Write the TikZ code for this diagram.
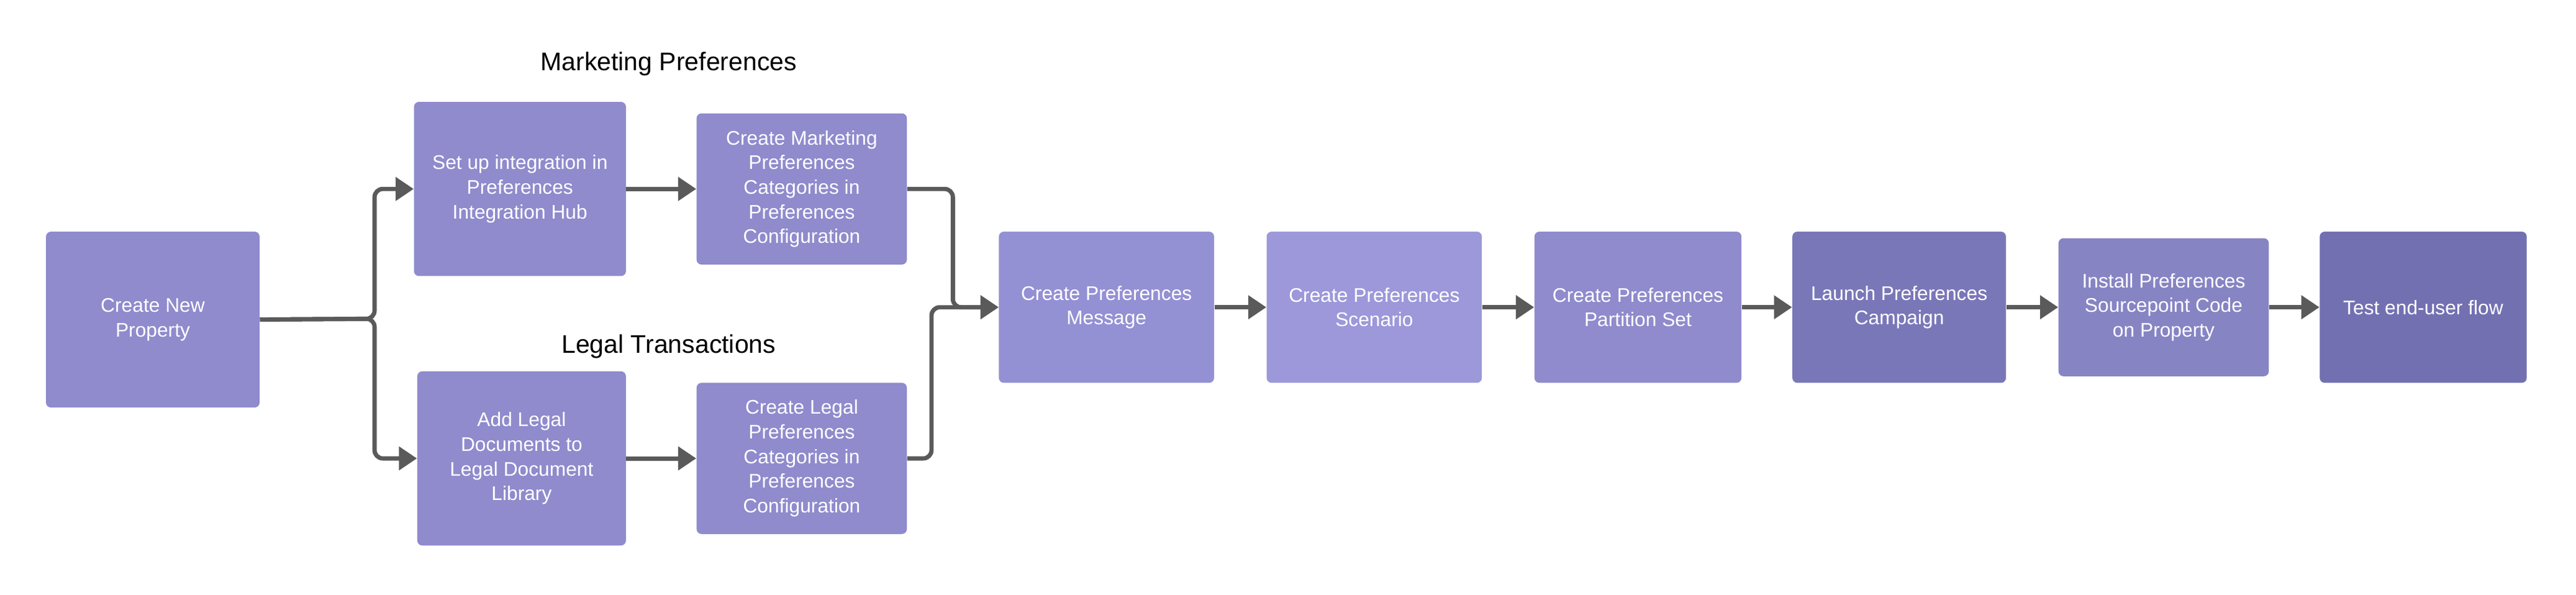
\documentclass[tikz,border=0pt]{standalone}
\usepackage{fontspec}
\setmainfont{Liberation Sans}
\usetikzlibrary{arrows.meta}
\definecolor{boxA}{HTML}{8F8BCC}
\definecolor{boxB}{HTML}{9490D4}
\definecolor{boxC}{HTML}{9C98DA}
\definecolor{boxD}{HTML}{7A77B8}
\definecolor{boxE}{HTML}{8784C4}
\definecolor{boxF}{HTML}{7370B2}
\definecolor{arrowgray}{HTML}{5A5A5A}
\begin{document}
\begin{tikzpicture}[x=1pt,y=-1pt]
        % Styles
        \tikzstyle{step box}=[rounded corners=3pt,fill=boxA,text=white,align=center,font=\fontsize{12}{15}\selectfont,inner sep=2pt]
        \tikzstyle{flow}=[arrowgray,line width=2.6pt,rounded corners=5pt,-{Triangle[length=11pt,width=14pt]}]
        \tikzstyle{group title}=[font=\fontsize{15.5}{18}\selectfont]
        %frame
        \useasboundingbox (0,0) rectangle (1568,362);
        %boxes
        \node[step box,minimum width=130,minimum height=107] (new) at (93,194.5) {Create New\\Property};
        \node[step box,minimum width=129,minimum height=106] (setup) at (316.5,115) {Set up integration in\\Preferences\\Integration Hub};
        \node[step box,minimum width=128,minimum height=92] (mkt) at (488,115) {Create Marketing\\Preferences\\Categories in\\Preferences\\Configuration};
        \node[step box,minimum width=127,minimum height=106] (legal) at (317.5,279) {Add Legal\\Documents to\\Legal Document\\Library};
        \node[step box,minimum width=128,minimum height=92] (clegal) at (488,279) {Create Legal\\Preferences\\Categories in\\Preferences\\Configuration};
        \node[step box,fill=boxB,minimum width=131,minimum height=92] (msg) at (673.5,187) {Create Preferences\\Message};
        \node[step box,fill=boxC,minimum width=131,minimum height=92] (scen) at (836.5,187) {Create Preferences\\Scenario};
        \node[step box,minimum width=126,minimum height=92] (part) at (997,187) {Create Preferences\\Partition Set};
        \node[step box,fill=boxD,minimum width=130,minimum height=92] (launch) at (1156,187) {Launch Preferences\\Campaign};
        \node[step box,fill=boxE,minimum width=128,minimum height=84] (install) at (1317,187) {Install Preferences\\Sourcepoint Code\\on Property};
        \node[step box,fill=boxF,minimum width=126,minimum height=92] (test) at (1475,187) {Test end-user flow};
        %titles
        \node[group title] (mkttitle) at (407,39) {Marketing Preferences};
        \node[group title] (legaltitle) at (407,211) {Legal Transactions};
        %arrows
        \draw[flow] (new.east) -- (228,194) |- (setup.west);
        \draw[flow] (new.east) -- (228,194) |- (legal.west);
        \draw[flow] (setup) -- (mkt);
        \draw[flow] (legal) -- (clegal);
        \draw[flow] (mkt.east) -- (580,115) |- (msg.west);
        \draw[flow] (clegal.east) -- (567,279) |- (msg.west);
        \foreach \a/\b in {msg/scen,scen/part,part/launch,launch/install,install/test}
            \draw[flow] (\a) -- (\b);
\end{tikzpicture}
\end{document}
